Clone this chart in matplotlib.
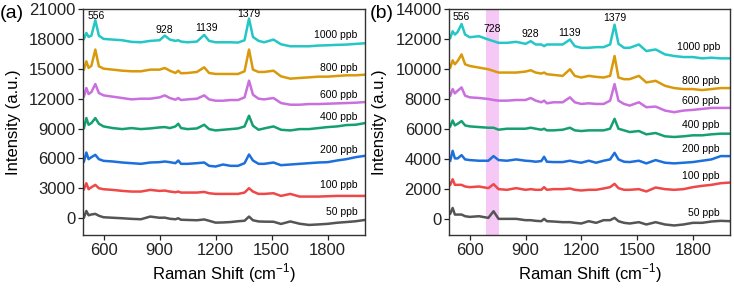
import numpy as np
import matplotlib
matplotlib.use("Agg")
import matplotlib.pyplot as plt

plt.rcParams['font.family'] = ['Liberation Sans', 'DejaVu Sans']
plt.rcParams['mathtext.fontset'] = 'custom'
plt.rcParams['mathtext.rm'] = 'Liberation Sans'

# ---- data ----
labels = ['50 ppb', '100 ppb', '200 ppb', '400 ppb', '600 ppb', '800 ppb', '1000 ppb']
colors = ['#555555', '#ee4848', '#1d6fdc', '#15a06f', '#c96fde', '#d9990b', '#25c6c6']

# panel (a)
shift_a = [495, 508, 520, 535, 556, 575, 600, 650, 700, 750, 800, 850, 900, 928, 955,
           985, 1000, 1015, 1050, 1100, 1139, 1165, 1200, 1240, 1280, 1320, 1355, 1379,
           1400, 1430, 1460, 1510, 1550, 1600, 1650, 1700, 1750, 1800, 1850, 1900, 1950, 2000]
a_50 = [90, 730, 300, 380, 440, 250, 100, 50, 0, -60, -100, 170, 50, 60, -50,
        -100, 0, -150, -170, -200, -120, -250, -440, -420, -380, -300, -250, 170,
        -200, -320, -340, -350, -570, -320, -550, -670, -620, -560, -450, -380, -300, -170]
a_100 = [2913, 3517, 2913, 3115, 3349, 3014, 2913, 2846, 2746, 2679, 2679, 2846, 2746, 2779, 2679,
         2612, 2679, 2578, 2578, 2578, 2645, 2511, 2444, 2444, 2444, 2444, 2578, 3014,
         2679, 2444, 2444, 2511, 2243, 2444, 2176, 2176, 2176, 2210, 2243, 2243, 2243, 2243]
a_200 = [5696, 6601, 5930, 6131, 6366, 5930, 5763, 5696, 5595, 5528, 5461, 5595, 5629, 5696, 5629,
         5528, 5796, 5461, 5461, 5528, 5595, 5260, 5193, 5394, 5260, 5260, 5528, 6400,
         5796, 5461, 5461, 5595, 5327, 5394, 5461, 5528, 5595, 5629, 5796, 5930, 6131, 6265]
a_400 = [9049, 10054, 9384, 9552, 10054, 9485, 9216, 9049, 8948, 9049, 8948, 9015, 9116, 9150, 9049,
         9216, 9485, 9049, 8948, 9015, 9384, 8948, 8814, 8881, 8948, 9015, 9216, 10289,
         9283, 8881, 9015, 9216, 8881, 8814, 8948, 8948, 9049, 9150, 9216, 9351, 9384, 9552]
a_600 = [12233, 13070, 12467, 12669, 13473, 12568, 12333, 12200, 12065, 11931, 11998, 11998, 12132, 12333, 12065,
         11898, 12065, 11864, 11931, 11998, 12333, 11931, 11797, 11797, 11864, 11864, 12132, 13808,
         12400, 11998, 11931, 12065, 11563, 11395, 11395, 11462, 11462, 11496, 11529, 11563, 11596, 11663]
a_800 = [14930, 15750, 15090, 15300, 16930, 15250, 15015, 14915, 14810, 14750, 14750, 14915, 14915, 15080, 14810,
         14580, 14810, 14550, 14580, 14680, 15150, 14580, 14480, 14480, 14480, 14480, 14750, 16930,
         14915, 14680, 14680, 14810, 14245, 14010, 14080, 14140, 14210, 14210, 14280, 14345, 14345, 14410]
a_1000 = [18000, 18600, 18200, 18330, 19875, 18330, 18000, 17930, 17865, 17700, 17660, 17800, 17865, 18330, 17930,
          17800, 17865, 17730, 17660, 17730, 18400, 17800, 17660, 17660, 17660, 17630, 17865, 20040,
          18200, 17800, 17660, 17930, 17460, 17260, 17260, 17260, 17330, 17360, 17400, 17430, 17500, 17560]

# panel (b)
shift_b = [495, 508, 520, 535, 556, 575, 600, 650, 700, 728, 755, 800, 850, 900, 928, 955,
           985, 1000, 1015, 1050, 1100, 1139, 1165, 1200, 1240, 1280, 1320, 1355, 1379,
           1400, 1430, 1460, 1510, 1550, 1600, 1650, 1700, 1750, 1800, 1850, 1900, 1950, 2000]
b_50 = [331, 706, 265, 265, 265, 155, 110, 155, 44, 485, -22, -22, -22, -110, -110, -154,
        -177, -22, -177, -199, -243, -243, -287, -331, -177, -287, -110, -110, 44,
        -177, -287, -331, -243, -397, -243, -397, -463, -397, -287, -287, -199, -154, -177]
b_100 = [2251, 2626, 2251, 2251, 2251, 2140, 2096, 2140, 2030, 2295, 1964, 1920, 2030, 1920, 1964, 1920,
         1920, 2096, 1920, 1964, 1964, 2008, 1920, 1875, 1920, 1920, 2008, 2096, 2317,
         2030, 1920, 1920, 1964, 1809, 2074, 1964, 1920, 1964, 2096, 2184, 2251, 2361, 2405]
b_200 = [3862, 4524, 4016, 4016, 4237, 3950, 3906, 3862, 3862, 4171, 3906, 3862, 3950, 3862, 3840, 3796,
         3840, 4127, 3796, 3773, 3773, 3862, 3796, 3729, 3862, 3729, 3862, 3950, 4391,
         3950, 3796, 3773, 3862, 3685, 3906, 3729, 3685, 3729, 3773, 3862, 3950, 4171, 4171]
b_400 = [6156, 6553, 6222, 6332, 6509, 6222, 6156, 6111, 6067, 6067, 5935, 6001, 6001, 6001, 6067, 6001,
         5935, 6001, 5891, 5891, 5935, 6067, 5891, 5847, 5891, 5891, 5891, 6001, 6663,
         6001, 5891, 5780, 5847, 5626, 5714, 5494, 5449, 5494, 5560, 5560, 5626, 5670, 5670]
b_600 = [8208, 8650, 8363, 8539, 8760, 8208, 8098, 8054, 7987, 7921, 7877, 7877, 7921, 7921, 8054, 7877,
         7767, 7877, 7700, 7767, 7767, 8098, 7767, 7656, 7700, 7656, 7656, 7877, 8981,
         7877, 7656, 7546, 7767, 7436, 7480, 7215, 7105, 7215, 7259, 7325, 7392, 7392, 7392]
b_800 = [10084, 10570, 10305, 10525, 10967, 10305, 10195, 10084, 9974, 9863, 9753, 9753, 9753, 9819, 9908, 9753,
         9687, 9753, 9643, 9598, 9532, 9974, 9532, 9422, 9532, 9466, 9422, 9532, 10856,
         9422, 9311, 9311, 9532, 9091, 9201, 8870, 8716, 8650, 8650, 8583, 8650, 8716, 8716]
b_1000 = [12070, 12512, 12291, 12468, 12997, 12291, 12115, 12181, 11960, 11850, 11739, 11739, 11806, 11673, 11850, 11629,
          11629, 11519, 11629, 11629, 11629, 11960, 11519, 11408, 11408, 11452, 11452, 11629, 12953,
          11673, 11408, 11408, 11629, 11188, 11298, 10967, 10857, 10790, 10790, 10702, 10746, 10702, 10702]

# label anchors per spectrum
lab_y_a = [660, 3350, 6870, 10160, 12400, 15085, 18430]
lab_y_b = [377, 2847, 4614, 6220, 7880, 9200, 11453]

peaks_a = ['556', '928', '1139', '1379']
peak_x_a = [561, 927, 1150, 1377]
peak_y_a = [20346, 18870, 19100, 20450]
peaks_b = ['556', '728', '928', '1139', '1379']
peak_x_b = [553, 720, 928, 1136, 1380]
peak_y_b = [13440, 12690, 12335, 12400, 13393]

band_b = (690, 755)

fig = plt.figure(figsize=(7.34, 2.88), dpi=100)
ax_a = fig.add_axes([83 / 734, 1 - 235 / 288, 282 / 734, 226 / 288])
ax_b = fig.add_axes([449.3 / 734, 1 - 235 / 288, 280.7 / 734, 226 / 288])


def style_axis(ax, yticks, ylim):
    ax.set_xlim(490, 2000)
    ax.set_ylim(*ylim)
    ax.set_xticks([600, 900, 1200, 1500, 1800])
    ax.set_yticks(yticks)
    ax.tick_params(direction='out', length=3.5, width=0.9, labelsize=12, pad=2,
                   colors='#222222')
    for s in ax.spines.values():
        s.set_linewidth(1.0)
        s.set_color('#333333')
    ax.set_xlabel('Raman Shift (cm$^{-1}$)', fontsize=12, labelpad=3)
    ax.set_ylabel('Intensity (a.u.)', fontsize=12, labelpad=6)


series_a = [a_50, a_100, a_200, a_400, a_600, a_800, a_1000]
for ys, c in zip(series_a, colors):
    ax_a.plot(shift_a, ys, color=c, lw=1.8)
for lab, y in zip(labels, lab_y_a):
    ax_a.text(1960, y, lab, ha='right', va='center', fontsize=7.5)
for t, x, y in zip(peaks_a, peak_x_a, peak_y_a):
    ax_a.text(x, y, t, ha='center', va='center', fontsize=7.5)
style_axis(ax_a, np.arange(0, 21001, 3000), (-1680, 21000))

ax_b.axvspan(*band_b, color='#f5c8f5', lw=0, zorder=0)
series_b = [b_50, b_100, b_200, b_400, b_600, b_800, b_1000]
for ys, c in zip(series_b, colors):
    ax_b.plot(shift_b, ys, color=c, lw=1.8)
for lab, y in zip(labels, lab_y_b):
    ax_b.text(1945, y, lab, ha='right', va='center', fontsize=7.5)
for t, x, y in zip(peaks_b, peak_x_b, peak_y_b):
    ax_b.text(x, y, t, ha='center', va='center', fontsize=7.5)
style_axis(ax_b, np.arange(0, 14001, 2000), (-1100, 14000))

fig.text(0.0, 1 - 14 / 288, '(a)', fontsize=14, ha='left', va='center')
fig.text(370 / 734, 1 - 14 / 288, '(b)', fontsize=14, ha='left', va='center')

fig.savefig('out.png', dpi=100)
